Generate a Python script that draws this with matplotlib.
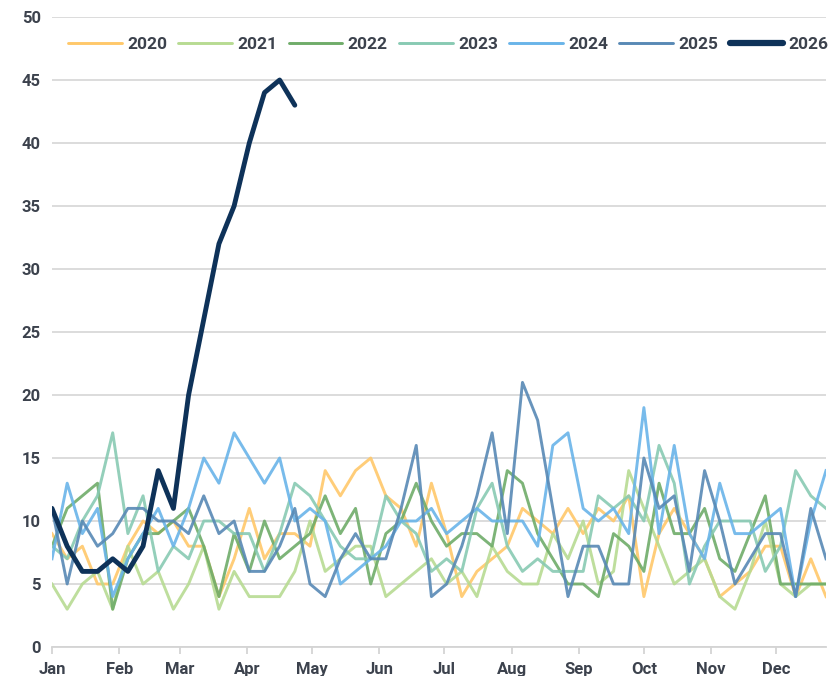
import numpy as np
import matplotlib
matplotlib.use("Agg")
import matplotlib.pyplot as plt

plt.rcParams['font.family'] = ['Roboto', 'DejaVu Sans']

# weekly counts, one value per week (52 weeks)
y2020 = [9, 7, 8, 5, 5, 8, 10, 9, 10, 8, 8, 4, 7, 11, 7, 9, 9, 8, 14, 12,
         14, 15, 12, 11, 8, 13, 9, 4, 6, 7, 8, 11, 10, 9, 11, 9, 11, 10, 12, 4,
         9, 11, 9, 7, 4, 5, 6, 8, 8, 4, 7, 4]
y2021 = [5, 3, 5, 6, 3, 8, 5, 6, 3, 5, 8, 3, 6, 4, 4, 4, 6, 10, 6, 7,
         8, 8, 4, 5, 6, 7, 5, 6, 4, 8, 6, 5, 5, 9, 7, 10, 5, 6, 14, 11,
         8, 5, 6, 7, 4, 3, 6, 10, 5, 4, 5, 5]
y2022 = [8, 11, 12, 13, 3, 7, 9, 9, 10, 11, 8, 4, 9, 6, 10, 7, 8, 9, 12, 9,
         11, 5, 9, 10, 13, 10, 8, 9, 9, 8, 14, 13, 9, 7, 5, 5, 4, 9, 8, 6,
         13, 9, 9, 11, 7, 6, 9, 12, 5, 5, 5, 5]
y2023 = [8, 7, 10, 12, 17, 9, 12, 6, 8, 7, 10, 10, 9, 9, 6, 9, 13, 12, 10, 8,
         7, 7, 12, 10, 9, 6, 7, 6, 11, 13, 8, 6, 7, 6, 6, 6, 12, 11, 12, 10,
         16, 13, 5, 8, 10, 10, 10, 6, 8, 14, 12, 11]
y2024 = [7, 13, 9, 11, 4, 7, 9, 11, 8, 11, 15, 13, 17, 15, 13, 15, 10, 11, 10, 5,
         6, 7, 8, 10, 10, 11, 9, 10, 11, 10, 10, 10, 8, 16, 17, 11, 10, 11, 9, 19,
         9, 16, 9, 7, 13, 9, 9, 10, 11, 4, 10, 14]
y2025 = [11, 5, 10, 8, 9, 11, 11, 10, 10, 9, 12, 9, 10, 6, 6, 8, 11, 5, 4, 7,
         9, 7, 7, 11, 16, 4, 5, 8, 12, 17, 9, 21, 18, 11, 4, 8, 8, 5, 5, 15,
         11, 12, 6, 14, 10, 5, 7, 9, 9, 4, 11, 7]
y2026 = [11, 8, 6, 6, 7, 6, 8, 14, 11, 20, 26, 32, 35, 40, 44, 45, 43]

years = ['2020', '2021', '2022', '2023', '2024', '2025', '2026']
series = [y2020, y2021, y2022, y2023, y2024, y2025, y2026]
colors = ['#FFC86A', '#B7DB92', '#6FAC69', '#88CAB3', '#69B4E9', '#5889B5', '#0E3259']

months = ['Jan', 'Feb', 'Mar', 'Apr', 'May', 'Jun', 'Jul', 'Aug', 'Sep', 'Oct', 'Nov', 'Dec']
month_start_day = [0, 31, 59, 90, 120, 151, 181, 212, 243, 273, 304, 334]

fig = plt.figure(figsize=(8.31, 6.76), dpi=100)
ax = fig.add_axes([52 / 831, (676 - 647) / 676, (826 - 52) / 831, (647 - 17) / 676])

for yr, vals, c in zip(years, series, colors):
    weeks = np.arange(len(vals))
    if yr == '2026':
        ax.plot(weeks, vals, color=c, lw=3.5, label=yr, zorder=5,
                solid_joinstyle='round', solid_capstyle='round')
    else:
        ax.plot(weeks, vals, color=c, lw=2.1, alpha=0.9, label=yr, zorder=3)

ax.set_xlim(0, 51)
ax.set_ylim(0, 50)
ax.set_yticks(range(0, 51, 5))
ax.set_xticks([d / 7 for d in month_start_day])
ax.set_xticklabels(months)

ax.grid(axis='y', color='#D9D9D9', lw=1.3, zorder=0)
for s in ['top', 'right', 'left']:
    ax.spines[s].set_visible(False)
ax.spines['bottom'].set_color('#D4D4D4')
ax.spines['bottom'].set_linewidth(1.3)
ax.tick_params(axis='y', length=0, pad=8, labelsize=12, labelcolor='#3C424D')
ax.tick_params(axis='x', length=5, width=1.3, color='#D4D4D4', pad=6,
               labelsize=12, labelcolor='#3C424D')
for lab in ax.get_xticklabels() + ax.get_yticklabels():
    lab.set_fontweight('bold')

leg = ax.legend(loc='center', bbox_to_anchor=(0.512, 0.957), ncol=7, frameon=False,
                handlelength=3.1, handletextpad=0.3, columnspacing=0.65,
                borderaxespad=0, borderpad=0,
                prop={'size': 12.5, 'weight': 'bold'})
for t in leg.get_texts():
    t.set_color('#3C424D')
for h in leg.get_lines():
    h.set_solid_capstyle('round')
    h.set_alpha(1)
leg.get_lines()[-1].set_linewidth(4.5)

fig.savefig('out.png', dpi=100)
